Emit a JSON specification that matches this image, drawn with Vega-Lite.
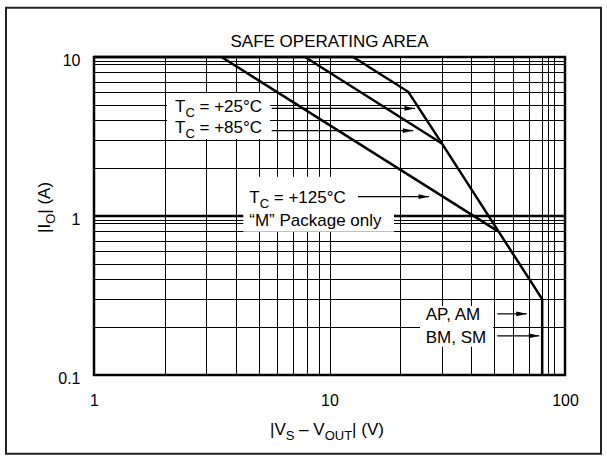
{
  "$schema": "https://vega.github.io/schema/vega-lite/v6.json",
  "width": 471,
  "height": 318,
  "autosize": {"type": "none"},
  "padding": {"left": 94, "top": 57, "right": 42, "bottom": 81},
  "background": "white",
  "config": {"view": {"stroke": "black", "strokeWidth": 2.5}, "font": "Liberation Sans"},
  "datasets": {
    "curves": [
      {"curve": "25", "ord": 1, "v": 1, "i": 10},
      {"curve": "25", "ord": 2, "v": 12.6, "i": 10},
      {"curve": "25", "ord": 3, "v": 21.6, "i": 6.04},
      {"curve": "25", "ord": 4, "v": 30, "i": 2.86},
      {"curve": "25", "ord": 5, "v": 80, "i": 0.3},
      {"curve": "25", "ord": 6, "v": 80, "i": 0.1},
      {"curve": "85", "ord": 1, "v": 7.87, "i": 10},
      {"curve": "85", "ord": 2, "v": 30, "i": 2.86},
      {"curve": "125", "ord": 1, "v": 3.48, "i": 10},
      {"curve": "125", "ord": 2, "v": 52, "i": 0.8},
      {"curve": "M", "ord": 1, "v": 1, "i": 1},
      {"curve": "M", "ord": 2, "v": 100, "i": 1}
    ],
    "boxes": [
      {"v": 2.042, "v2": 5.588, "i": 5.925, "i2": 3.045},
      {"v": 4.305, "v2": 18.79, "i": 1.766, "i2": 0.797},
      {"v": 24.23, "v2": 49.47, "i": 0.272, "i2": 0.1504}
    ],
    "arrows": [
      {"v": 5.683, "v2": 23.07, "i": 4.749},
      {"v": 5.683, "v2": 22.69, "i": 3.444},
      {"v": 13.21, "v2": 26.46, "i": 1.322},
      {"v": 51.58, "v2": 68.79, "i": 0.2424},
      {"v": 51.58, "v2": 77.8, "i": 0.1763}
    ],
    "tclabels": [
      {"v": 2.208, "i": 4.52, "a": "T", "b": "C", "c": "= +25°C"},
      {"v": 2.208, "i": 3.307, "a": "T", "b": "C", "c": "= +85°C"},
      {"v": 4.564, "i": 1.202, "a": "T", "b": "C", "c": "= +125°C"}
    ],
    "plainlabels": [
      {"v": 4.564, "i": 0.869, "t": "“M” Package only"},
      {"v": 25.62, "i": 0.2207, "t": "AP, AM"},
      {"v": 25.62, "i": 0.1586, "t": "BM, SM"}
    ],
    "titletext": [{"v": 10, "i": 11.49, "t": "SAFE OPERATING AREA"}],
    "xtitle": [{"v": 5.59, "i": 0.0421, "a": "|V", "b": "S", "c": "– V", "d": "OUT", "e": "| (V)"}],
    "ytitle": [{"v": 0.65, "i": 0.782, "a": "|I", "b": "O", "c": "| (A)"}],
    "frame": [{"v": 0.423, "v2": 142.2, "i": 20.4, "i2": 0.032}]
  },
  "encoding": {
    "x": {
      "field": "v", "type": "quantitative",
      "scale": {"type": "log", "domain": [1, 100], "nice": false},
      "axis": {
        "title": null, "values": [1,2,3,4,5,6,7,8,9,10,20,30,40,50,60,70,80,85,90,100],
        "format": "~g",
        "labelExpr": "datum.value == 1 || datum.value == 10 || datum.value == 100 ? datum.label : ''",
        "grid": true, "gridColor": "black", "gridWidth": 1, "gridOpacity": 1,
        "domain": false, "ticks": false, "labelPadding": 17, "labelFontSize": 16,
        "labelFont": "Liberation Sans", "labelColor": "black", "labelOverlap": false, "labelFlush": false, "labelBound": false
      }
    },
    "y": {
      "field": "i", "type": "quantitative",
      "scale": {"type": "log", "domain": [0.1, 10], "nice": false},
      "axis": {
        "title": null, "values": [0.1,0.2,0.3,0.4,0.5,0.6,0.7,0.8,0.9,0.95,1,2,3,4,5,6,7,8,9,9.5,10],
        "format": "~g",
        "labelExpr": "datum.value == 0.1 || datum.value == 1 || datum.value == 10 ? datum.label : ''",
        "grid": true, "gridColor": "black", "gridWidth": 1, "gridOpacity": 1,
        "domain": false, "ticks": false, "labelPadding": 14, "labelFontSize": 16, "labelOffset": 3,
        "labelFont": "Liberation Sans", "labelColor": "black", "labelOverlap": false, "labelFlush": false, "labelBound": false
      }
    }
  },
  "layer": [
    {
      "data": {"name": "frame"},
      "mark": {"type": "rect", "fill": "white", "fillOpacity": 0, "stroke": "#222222", "strokeWidth": 2},
      "encoding": {"x2": {"field": "v2"}, "y2": {"field": "i2"}}
    },
    {
      "data": {"name": "curves"},
      "mark": {"type": "line", "color": "black", "strokeWidth": 2.5},
      "encoding": {"detail": {"field": "curve"}, "order": {"field": "ord"}}
    },
    {
      "data": {"name": "boxes"},
      "mark": {"type": "rect", "fill": "white", "strokeWidth": 0},
      "encoding": {"x2": {"field": "v2"}, "y2": {"field": "i2"}}
    },
    {
      "data": {"name": "arrows"},
      "mark": {"type": "rule", "color": "black", "strokeWidth": 1.2},
      "encoding": {"x2": {"field": "v2"}}
    },
    {
      "data": {"name": "arrows"},
      "mark": {"type": "point", "shape": "M -2 -0.45 L 0 0 L -2 0.45 Z", "size": 110, "filled": true, "color": "black", "opacity": 1, "strokeWidth": 0},
      "encoding": {"x": {"field": "v2", "type": "quantitative"}}
    },
    {
      "data": {"name": "titletext"},
      "mark": {"type": "text", "align": "center", "baseline": "alphabetic", "fontSize": 17, "color": "black"},
      "encoding": {"text": {"field": "t"}}
    },
    {
      "data": {"name": "tclabels"},
      "mark": {"type": "text", "align": "left", "baseline": "alphabetic", "fontSize": 17, "color": "black"},
      "encoding": {"text": {"field": "a"}}
    },
    {
      "data": {"name": "tclabels"},
      "mark": {"type": "text", "align": "left", "baseline": "alphabetic", "fontSize": 13, "color": "black", "dx": 10.4, "dy": 5},
      "encoding": {"text": {"field": "b"}}
    },
    {
      "data": {"name": "tclabels"},
      "mark": {"type": "text", "align": "left", "baseline": "alphabetic", "fontSize": 17, "color": "black", "dx": 24.5},
      "encoding": {"text": {"field": "c"}}
    },
    {
      "data": {"name": "plainlabels"},
      "mark": {"type": "text", "align": "left", "baseline": "alphabetic", "fontSize": 17, "color": "black"},
      "encoding": {"text": {"field": "t"}}
    },
    {
      "data": {"name": "xtitle"},
      "mark": {"type": "text", "align": "left", "baseline": "alphabetic", "fontSize": 17, "color": "black"},
      "encoding": {"text": {"field": "a"}}
    },
    {
      "data": {"name": "xtitle"},
      "mark": {"type": "text", "align": "left", "baseline": "alphabetic", "fontSize": 13, "color": "black", "dx": 15.8, "dy": 5},
      "encoding": {"text": {"field": "b"}}
    },
    {
      "data": {"name": "xtitle"},
      "mark": {"type": "text", "align": "left", "baseline": "alphabetic", "fontSize": 17, "color": "black", "dx": 29.1},
      "encoding": {"text": {"field": "c"}}
    },
    {
      "data": {"name": "xtitle"},
      "mark": {"type": "text", "align": "left", "baseline": "alphabetic", "fontSize": 13, "color": "black", "dx": 54.7, "dy": 5},
      "encoding": {"text": {"field": "d"}}
    },
    {
      "data": {"name": "xtitle"},
      "mark": {"type": "text", "align": "left", "baseline": "alphabetic", "fontSize": 17, "color": "black", "dx": 82.1},
      "encoding": {"text": {"field": "e"}}
    },
    {
      "data": {"name": "ytitle"},
      "mark": {"type": "text", "align": "left", "baseline": "alphabetic", "fontSize": 17, "color": "black", "angle": 270},
      "encoding": {"text": {"field": "a"}}
    },
    {
      "data": {"name": "ytitle"},
      "mark": {"type": "text", "align": "left", "baseline": "alphabetic", "fontSize": 13, "color": "black", "angle": 270, "dx": 9.2, "dy": 5},
      "encoding": {"text": {"field": "b"}}
    },
    {
      "data": {"name": "ytitle"},
      "mark": {"type": "text", "align": "left", "baseline": "alphabetic", "fontSize": 17, "color": "black", "angle": 270, "dx": 19.3},
      "encoding": {"text": {"field": "c"}}
    }
  ]
}
